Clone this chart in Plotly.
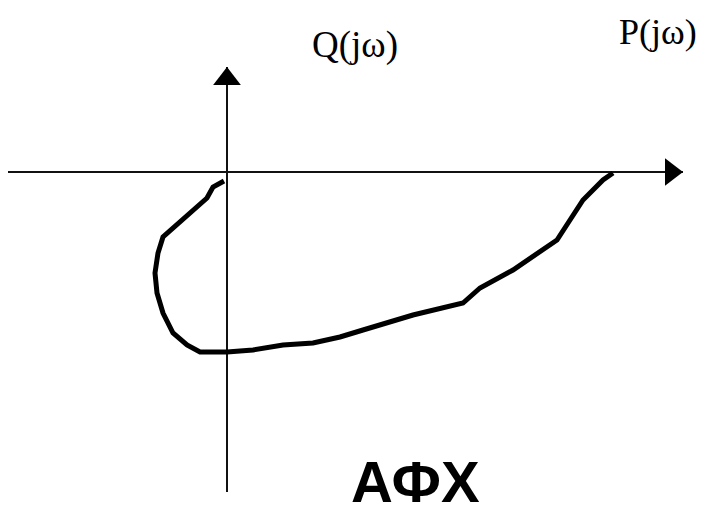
import plotly.graph_objects as go

# Curve (P = real part, Q = imaginary part), hand-drawn hodograph
P_vals = [-3, -14, -20, -34, -54, -64, -69, -72, -70, -64, -54, -40, -27, 0, 26, 56,
          86, 113, 136, 186, 236, 253, 286, 330, 343, 356, 376, 386]
Q_vals = [-9, -15, -26, -38, -55, -65, -81, -101, -121, -141, -161, -173, -180, -180,
          -178, -173, -171, -165, -158, -143, -131, -116, -98, -68, -48, -28, -8, -1]

# Axis extents
P_axis = [-219, 456]
Q_axis = [105, -320]

label_Q = "Q(jω)"
label_P = "P(jω)"
title = "АФХ"

fig = go.Figure()

# horizontal axis
fig.add_trace(go.Scatter(x=P_axis, y=[0, 0], mode="lines",
                         line=dict(color="#111", width=2), hoverinfo="skip"))
# vertical axis
fig.add_trace(go.Scatter(x=[0, 0], y=Q_axis, mode="lines",
                         line=dict(color="#111", width=2), hoverinfo="skip"))
# arrowheads
fig.add_trace(go.Scatter(x=[P_axis[1] - 12], y=[0], mode="markers",
                         marker=dict(symbol="triangle-right", size=24, color="#000"),
                         hoverinfo="skip"))
fig.add_trace(go.Scatter(x=[0], y=[Q_axis[0] - 12], mode="markers",
                         marker=dict(symbol="triangle-up", size=24, color="#000"),
                         hoverinfo="skip"))
# curve
fig.add_trace(go.Scatter(x=P_vals, y=Q_vals, mode="lines",
                         line=dict(color="#000", width=5, shape="linear"),
                         hoverinfo="skip"))

fig.add_annotation(x=128, y=127, text=label_Q, showarrow=False,
                   font=dict(family="Liberation Serif", size=37, color="#000"))
fig.add_annotation(x=431, y=140, text=label_P, showarrow=False,
                   font=dict(family="Liberation Serif", size=36, color="#000"))
fig.add_annotation(x=188, y=-309, text="<b>" + title + "</b>", showarrow=False,
                   font=dict(family="Liberation Sans", size=58, color="#000"))

fig.update_layout(
    width=714, height=516,
    margin=dict(l=0, r=0, t=0, b=0),
    paper_bgcolor="white", plot_bgcolor="white",
    showlegend=False,
    xaxis=dict(range=[-227, 487], visible=False, fixedrange=True),
    yaxis=dict(range=[-344, 172], visible=False, fixedrange=True),
)

fig.write_html("out.html", config={"displayModeBar": False, "staticPlot": True},
               post_script="document.body.style.margin='0';document.body.style.padding='0';")
